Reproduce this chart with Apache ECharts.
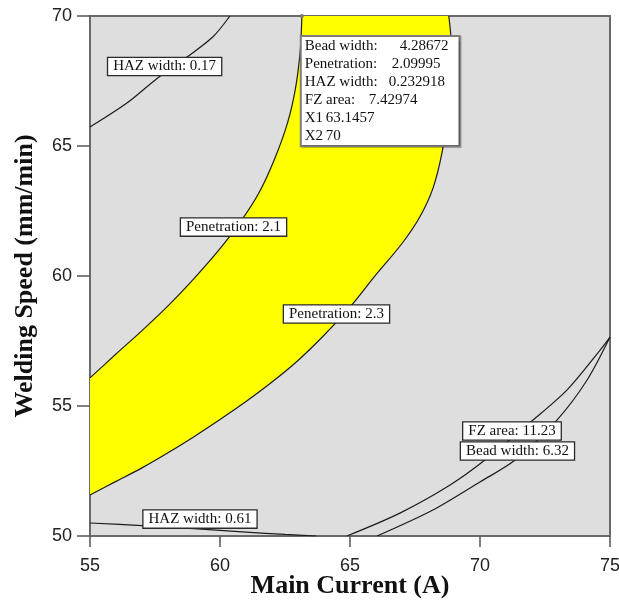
<!DOCTYPE html>
<html>
<head>
<meta charset="utf-8">
<title>Overlay plot: Main Current vs Welding Speed</title>
<script src="https://cdn.jsdelivr.net/npm/echarts@6/dist/echarts.min.js"></script>
<style>
  html, body { margin: 0; padding: 0; background: #ffffff; }
  #chart { width: 619px; height: 607px; }
</style>
</head>
<body>
<div id="chart"></div>
<script>
// Axis ranges and ticks (X1 = Main Current, X2 = Welding Speed)
const currentRange = [55, 75];
const speedRange = [50, 70];
const tickStep = 5;

// Contour lines, as [Main Current (A), Welding Speed (mm/min)]
const hazWidth017 = [[55, 65.73], [56.42, 66.65], [57.58, 67.6], [58.73, 68.42], [59.73, 69.2], [60.38, 70]];

const penetration21 = [[55, 56.08], [56, 57.0], [57, 57.9], [58, 58.85], [59, 59.9], [60, 61.05],
  [60.8, 62.1], [61.5, 63.2], [62.1, 64.5], [62.6, 65.9], [62.9, 67.2], [63.08, 68.6], [63.15, 70]];

const penetration23 = [[55, 51.58], [56, 52.1], [57, 52.62], [58, 53.2], [59, 53.82], [60, 54.48],
  [61, 55.17], [62, 55.92], [63, 56.75], [64, 57.72], [65, 58.8], [66, 60.05], [67, 61.25],
  [67.7, 62.3], [68.2, 63.4], [68.55, 64.8], [68.78, 66.4], [68.9, 68.0], [68.88, 69.2], [68.8, 70]];

const hazWidth061 = [[55, 50.5], [57, 50.4], [59, 50.28], [61, 50.15], [62.5, 50.06], [63.7, 50]];

const fzArea1123 = [[64.88, 50], [66.92, 50.88], [68.85, 51.96], [70.19, 52.92], [72.04, 54.46],
  [73.35, 55.62], [74.62, 57.15], [75, 57.65]];

const beadWidth632 = [[66.04, 50], [68.19, 51.0], [70, 52.08], [71.35, 52.92], [72.96, 54.46],
  [74.12, 56.0], [75, 57.65]];

// Contour labels and where they sit on the plot
const contourLabelNames = ['HAZ width: 0.17', 'Penetration: 2.1', 'Penetration: 2.3', 'HAZ width: 0.61', 'FZ area: 11.23', 'Bead width: 6.32'];
const contourLabelPoints = [[57.87, 68.06], [60.52, 61.88], [64.48, 58.54], [59.23, 50.65], [71.23, 54.04], [71.44, 53.27]];

// Flagged design point and its predicted responses
const flagPoint = [63.1457, 70];
const flagNames = ['Bead width:', 'Penetration:', 'HAZ width:', 'FZ area:', 'X1', 'X2'];
const flagValues = ['4.28672', '2.09995', '0.232918', '7.42974', '63.1457', '70'];

// Sweet spot: between the two penetration contours
const sweetSpot = penetration21.concat(penetration23.slice().reverse());

const chart = echarts.init(document.getElementById('chart'), null, { renderer: 'canvas' });

const serif = 'Liberation Serif, Times New Roman, serif';
const sans = 'Liberation Sans, Arial, sans-serif';
const axisGray = '#6a6a6a';

function contour(data) {
  return {
    type: 'line',
    data: data,
    smooth: 0.3,
    symbol: 'none',
    silent: true,
    clip: true,
    z: 2,
    lineStyle: { color: '#1c1c1c', width: 1.2 }
  };
}

// name-column widths so each value starts where the flag layout puts it
const flagColumn = [95, 87, 84, 64, 21, 21];
const flagRich = { v: { fontFamily: serif, fontSize: 15, color: '#111', lineHeight: 18 } };
flagColumn.forEach(function (w, i) {
  flagRich['n' + i] = { fontFamily: serif, fontSize: 15, color: '#111', lineHeight: 18, width: w };
});

const option = {
  animation: false,
  backgroundColor: '#ffffff',
  grid: {
    left: 90, right: 9, top: 16, bottom: 71,
    outerBoundsMode: 'none',
    containLabel: false,
    show: true,
    backgroundColor: '#dedede',
    borderColor: axisGray,
    borderWidth: 2
  },
  xAxis: {
    type: 'value',
    min: currentRange[0], max: currentRange[1], interval: tickStep,
    name: 'Main Current (A)',
    nameLocation: 'middle',
    nameGap: 37,
    nameMoveOverlap: false,
    nameTextStyle: { fontFamily: serif, fontWeight: 'bold', fontSize: 26, color: '#111' },
    axisLine: { show: true, lineStyle: { color: axisGray, width: 2 } },
    axisTick: { show: true, inside: false, length: 11, lineStyle: { color: '#555', width: 1.5 } },
    axisLabel: { margin: 21, fontFamily: sans, fontSize: 18, color: '#222' },
    splitLine: { show: false }
  },
  yAxis: {
    type: 'value',
    min: speedRange[0], max: speedRange[1], interval: tickStep,
    name: 'Welding Speed (mm/min)',
    nameLocation: 'middle',
    nameGap: 52,
    nameMoveOverlap: false,
    nameTextStyle: { fontFamily: serif, fontWeight: 'bold', fontSize: 26, color: '#111' },
    axisLine: { show: true, lineStyle: { color: axisGray, width: 2 } },
    axisTick: { show: true, inside: false, length: 13, lineStyle: { color: '#555', width: 1.5 } },
    axisLabel: { margin: 18, fontFamily: sans, fontSize: 18, color: '#222' },
    splitLine: { show: false }
  },
  series: [
    {
      type: 'custom',
      coordinateSystem: 'cartesian2d',
      data: [flagPoint],
      clip: true,
      silent: true,
      z: 1,
      renderItem: function (params, api) {
        const pts = sweetSpot.map(function (p) { return api.coord(p); });
        return { type: 'polygon', shape: { points: pts }, style: { fill: '#ffff00', stroke: null } };
      }
    },
    contour(hazWidth017),
    contour(penetration21),
    contour(penetration23),
    contour(hazWidth061),
    contour(fzArea1123),
    contour(beadWidth632),
    {
      type: 'scatter',
      silent: true,
      z: 4,
      symbolSize: 1,
      itemStyle: { color: 'rgba(0,0,0,0)', opacity: 1 },
      data: contourLabelNames.map(function (n, i) { return { name: n, value: contourLabelPoints[i] }; }),
      label: {
        show: true,
        position: 'inside',
        formatter: '{b}',
        fontFamily: serif,
        fontSize: 15,
        lineHeight: 16,
        color: '#111',
        backgroundColor: '#ffffff',
        borderColor: '#2a2a2a',
        borderWidth: 1.3,
        padding: [1, 5, 0, 5]
      }
    },
    {
      type: 'scatter',
      silent: true,
      z: 5,
      symbol: 'circle',
      symbolSize: 4,
      itemStyle: { color: '#777', opacity: 1 },
      data: [flagPoint],
      label: {
        show: true,
        position: [2, 23],
        align: 'left',
        verticalAlign: 'top',
        formatter: function () {
          return flagNames.map(function (n, i) {
            return '{n' + i + '|' + n + '}{v|' + flagValues[i] + '}';
          }).join('\n');
        },
        rich: flagRich,
        backgroundColor: '#ffffff',
        borderColor: '#7d7d7d',
        borderWidth: 2,
        padding: [0, 10, 0, 3],
        shadowColor: 'rgba(0,0,0,0.3)',
        shadowOffsetX: 1,
        shadowOffsetY: 1,
        shadowBlur: 1
      }
    }
  ]
};

chart.setOption(option);
</script>
</body>
</html>
